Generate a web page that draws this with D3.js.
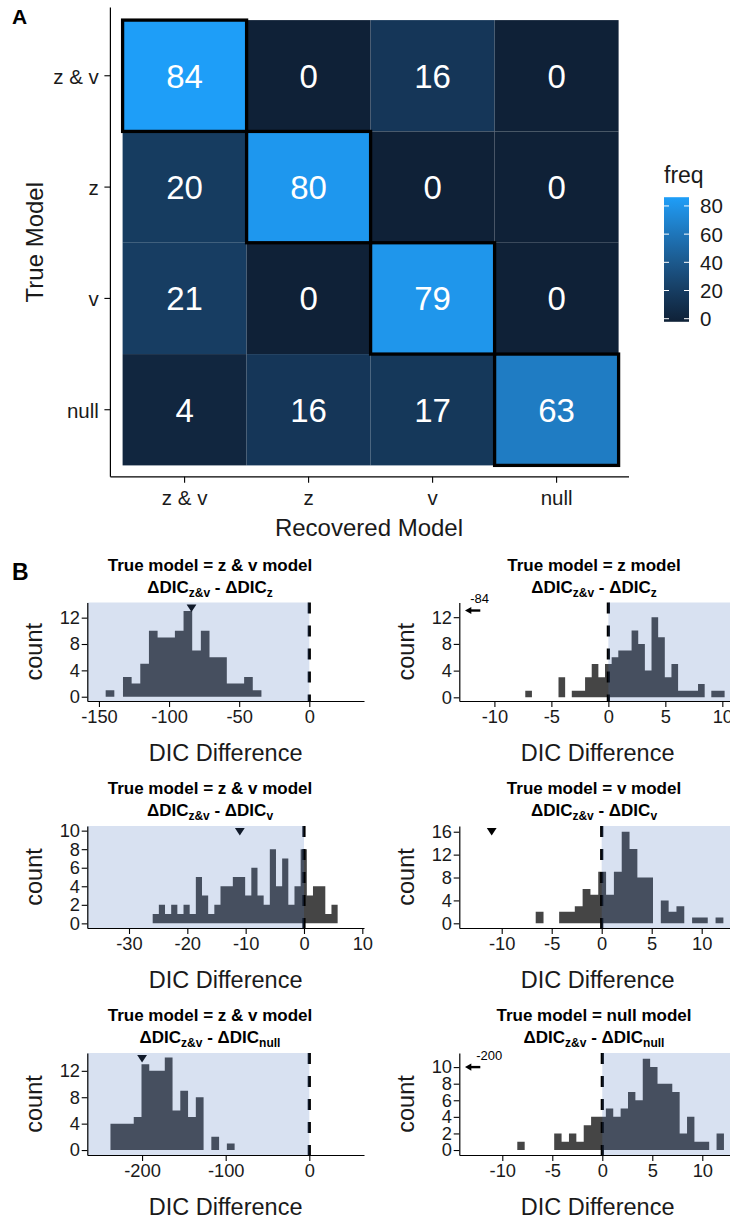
<!DOCTYPE html>
<html>
<head>
<meta charset="utf-8">
<script src="https://cdn.jsdelivr.net/npm/d3@7"></script>
<style>
body { margin: 0; background: #fff; }
text { font-family: "Liberation Sans", Arial, Helvetica, sans-serif; }
</style>
</head>
<body>
<script>
var width = 730, height = 1219;

// A: model recovery counts (rows = true model, cols = recovered model)
var recoveredModels = ["z & v", "z", "v", "null"];
var trueModels = ["z & v", "z", "v", "null"];
var freqZV = [84, 0, 16, 0];
var freqZ = [20, 80, 0, 0];
var freqV = [21, 0, 79, 0];
var freqNull = [4, 16, 17, 63];
var legendBreaks = [0, 20, 40, 60, 80];

// B: histograms of DIC differences, bin counts
var histTitles = ["True model = z & v model", "True model = z model",
                  "True model = z & v model", "True model = v model",
                  "True model = z & v model", "True model = null model"];
var histSubs = ["z", "z", "v", "v", "null", "null"];
var histCounts = [
  [1,0,3,2,5,10,9,9,10,13,7,10,6,6,2,2,3,1],
  [1,0,0,0,0,3,0,1,1,3,5,3,5,6,7,7,10,8,4,12,9,3,5,1,1,1,2,0,1,1],
  [1,2,1,2,1,2,1,5,3,1,2,4,4,5,5,3,6,3,2,8,4,7,2,4,8,3,4,4,1,2],
  [2,0,0,2,2,3,6,5,9,5,9,16,13,8,8,0,4,2,3,0,1,1,0,1],
  [4,4,4,5,13,12,12,14,6,9,5,8,0,2,0,1],
  [1,0,0,0,0,2,1,2,1,3,4,4,5,4,5,7,6,11,10,8,8,7,2,4,1,1,0,2]
];
var histBinStart = [-145.2, -7.29, -25.94, -6.6, -237.8, -8.5];
var histBinWidth = [6.17, 0.583, 1.057, 0.782, 9.28, 0.738];
var histMean = [-84, -84, -11, -11, -200, -200];
var histArrowY = [13, 13, 10, 10, 10, 10];
var histArrowLabelX = -11.3;
var histXDomain = [[-158.3, 39], [-13.08, 11.2], [-37.15, 10.29], [-14.24, 13.43], [-265.5, 65.4], [-14.3, 13.37]];
var histYDomain = [[-0.65, 14.3], [-0.55, 14.2], [-0.5, 10.5], [-0.82, 17], [-0.75, 14.7], [-0.6, 11.7]];
var histXTicks = [[-150,-100,-50,0], [-10,-5,0,5,10], [-30,-20,-10,0,10], [-10,-5,0,5,10], [-200,-100,0], [-10,-5,0,5,10]];
var histYTicks = [[0,4,8,12], [0,4,8,12], [0,2,4,6,8,10], [0,4,8,12,16], [0,4,8,12], [0,2,4,6,8,10]];

var ink = "#1a1a1a";
var svg = d3.select("body").append("svg").attr("width", width).attr("height", height);

// ---------- A ----------
var freq = [freqZV, freqZ, freqV, freqNull];
var maxFreq = d3.max(freq, function(r){ return d3.max(r); });
var xA = d3.scaleBand().domain(recoveredModels).range([122.6, 618.6]);
var yA = d3.scaleBand().domain(trueModels).range([20.1, 465.4]);
var fillA = d3.scaleLinear().domain([0, maxFreq]).range(["#0f2137", "#1e9ef8"]).interpolate(d3.interpolateLab);

var cells = [];
trueModels.forEach(function(t, i){
  recoveredModels.forEach(function(r, j){
    cells.push({truth: t, rec: r, n: freq[i][j], diag: i == j});
  });
});

var gA = svg.append("g");
gA.selectAll("rect.tile").data(cells).enter().append("rect")
  .attr("x", function(d){ return xA(d.rec); })
  .attr("y", function(d){ return yA(d.truth); })
  .attr("width", xA.bandwidth()).attr("height", yA.bandwidth())
  .attr("fill", function(d){ return fillA(d.n); });
gA.selectAll("text.cell").data(cells).enter().append("text")
  .attr("x", function(d){ return xA(d.rec) + xA.bandwidth() / 2; })
  .attr("y", function(d){ return yA(d.truth) + yA.bandwidth() / 2; })
  .attr("dy", "0.36em").attr("text-anchor", "middle")
  .attr("font-size", "33px").attr("fill", "#fff")
  .text(function(d){ return d.n; });
gA.selectAll("rect.diag").data(cells.filter(function(d){ return d.diag; })).enter().append("rect")
  .attr("x", function(d){ return xA(d.rec); })
  .attr("y", function(d){ return yA(d.truth); })
  .attr("width", xA.bandwidth()).attr("height", yA.bandwidth())
  .attr("fill", "none").attr("stroke", "#000").attr("stroke-width", 3.3);

// axes of A
var axA = gA.append("g").attr("transform", "translate(0,476.8)")
  .call(d3.axisBottom(xA).tickSize(6).tickPadding(7.6).tickSizeOuter(0));
var ayA = gA.append("g").attr("transform", "translate(110.4,0)")
  .call(d3.axisLeft(yA).tickSize(6).tickPadding(5.6).tickSizeOuter(0));
[axA, ayA].forEach(function(a){
  a.select(".domain").remove();
  a.selectAll("line").attr("stroke", "#000").attr("stroke-width", 1.1);
  a.selectAll("text").attr("font-size", "20.5px").attr("fill", ink).style("font-family", null);
});
ayA.selectAll("text").attr("dy", "0.38em");
gA.append("line").attr("x1", 110.4).attr("x2", 629).attr("y1", 476.8).attr("y2", 476.8).attr("stroke", "#000").attr("stroke-width", 1.2);
gA.append("line").attr("x1", 110.4).attr("x2", 110.4).attr("y1", 7.6).attr("y2", 476.8).attr("stroke", "#000").attr("stroke-width", 1.2);
gA.append("text").attr("x", 369).attr("y", 536.3).attr("text-anchor", "middle")
  .attr("font-size", "24px").attr("fill", ink).text("Recovered Model");
gA.append("text").attr("transform", "translate(42.9,242.2) rotate(-90)").attr("text-anchor", "middle")
  .attr("font-size", "24px").attr("fill", ink).text("True Model");
svg.append("text").attr("x", 12).attr("y", 23.5).attr("font-size", "21px").attr("font-weight", "bold").text("A");

// legend
var legY = d3.scaleLinear().domain([0, maxFreq]).range([318.7, 200.3]);
var grad = svg.append("defs").append("linearGradient").attr("id", "freqgrad")
  .attr("x1", 0).attr("y1", 1).attr("x2", 0).attr("y2", 0);
d3.range(0, 1.0001, 0.1).forEach(function(t){
  grad.append("stop").attr("offset", t).attr("stop-color", fillA(t * maxFreq));
});
var gL = svg.append("g");
gL.append("text").attr("x", 664).attr("y", 182.5).attr("font-size", "23px").attr("fill", ink).text("freq");
gL.append("rect").attr("x", 664).attr("y", 197.2).attr("width", 25).attr("height", 124.6).attr("fill", "url(#freqgrad)");
gL.selectAll("line.tl").data(legendBreaks).enter().append("line")
  .attr("x1", 664).attr("x2", 669).attr("y1", legY).attr("y2", legY).attr("stroke", "#fff").attr("stroke-width", 1);
gL.selectAll("line.tr").data(legendBreaks).enter().append("line")
  .attr("x1", 684).attr("x2", 689).attr("y1", legY).attr("y2", legY).attr("stroke", "#fff").attr("stroke-width", 1);
gL.selectAll("text.lab").data(legendBreaks).enter().append("text")
  .attr("x", 700).attr("y", legY).attr("dy", "0.36em")
  .attr("font-size", "20.5px").attr("fill", ink).text(function(d){ return d; });

// ---------- B ----------
svg.append("text").attr("x", 12).attr("y", 580).attr("font-size", "23px").attr("font-weight", "bold").text("B");

var colX = [[87.3, 736 - 372], [459.3, 736]];
var rowY = [[602.5, 701], [826, 928], [1053, 1155]];
var titleX = [210, 594];

histTitles.forEach(function(title, i){
  var c = i % 2, r = Math.floor(i / 2);
  var top = rowY[r][0], bottom = rowY[r][1];
  var x = d3.scaleLinear().domain(histXDomain[i]).range(colX[c]);
  var y = d3.scaleLinear().domain(histYDomain[i]).range([bottom, top]);
  var g = svg.append("g");

  // bins as one stepped area so neighbouring bars do not show seams
  var steps = histCounts[i].map(function(n, k){
    return {x: histBinStart[i] + k * histBinWidth[i], n: n};
  });
  steps.push({x: histBinStart[i] + histCounts[i].length * histBinWidth[i], n: 0});
  var area = d3.area().curve(d3.curveStepAfter)
    .x(function(d){ return x(d.x); }).y0(y(0)).y1(function(d){ return y(d.n); });
  g.append("path").datum(steps).attr("d", area).attr("fill", "#454545");

  // mean marker, or arrow when it falls off the left of the axis
  var m = histMean[i];
  if (m >= histXDomain[i][0]) {
    var mx = x(m);
    g.append("path").attr("d", "M" + (mx - 4.9) + "," + (top + 2) + "L" + (mx + 4.9) + "," + (top + 2) + "L" + mx + "," + (top + 9.5) + "Z")
      .attr("fill", "#000");
  }

  g.append("line").attr("x1", x(0)).attr("x2", x(0)).attr("y1", top).attr("y2", bottom)
    .attr("stroke", "#000").attr("stroke-width", 3.2).attr("stroke-dasharray", "11,12");

  // shaded side of zero that favours the true model
  var sx0 = c == 0 ? colX[c][0] : x(0);
  var sx1 = c == 0 ? x(0) : colX[c][1];
  g.append("rect").attr("x", sx0).attr("y", top).attr("width", sx1 - sx0).attr("height", bottom - top)
    .attr("fill", "rgb(78,119,191)").attr("fill-opacity", 0.22);

  if (m < histXDomain[i][0]) {
    var ay = y(histArrowY[i]), ax = colX[c][0];
    g.append("line").attr("x1", ax + 10).attr("x2", ax + 21).attr("y1", ay).attr("y2", ay)
      .attr("stroke", "#000").attr("stroke-width", 2.4);
    g.append("path").attr("d", "M" + (ax + 5.7) + "," + ay + "L" + (ax + 12) + "," + (ay - 3.6) + "L" + (ax + 12) + "," + (ay + 3.6) + "Z")
      .attr("fill", "#000");
    g.append("text").attr("x", x(histArrowLabelX)).attr("y", ay - 7.5).attr("text-anchor", "middle")
      .attr("font-size", "13px").attr("fill", "#000").text(m);
  }

  var ax1 = g.append("g").attr("transform", "translate(0," + bottom + ")")
    .call(d3.axisBottom(x).tickValues(histXTicks[i]).tickSize(6).tickPadding(3.3).tickSizeOuter(0));
  var ay1 = g.append("g").attr("transform", "translate(" + colX[c][0] + ",0)")
    .call(d3.axisLeft(y).tickValues(histYTicks[i]).tickSize(5.6).tickPadding(1.7).tickSizeOuter(0));
  [ax1, ay1].forEach(function(a){
    a.select(".domain").attr("stroke", "#000").attr("stroke-width", 1.2);
    a.selectAll("line").attr("stroke", "#000").attr("stroke-width", 1.1);
    a.selectAll("text").attr("font-size", "18.3px").attr("fill", ink).style("font-family", null)
      .text(function(d){ return d; });
  });

  g.append("text").attr("x", (colX[c][0] + colX[c][1]) / 2).attr("y", bottom + 60).attr("text-anchor", "middle")
    .attr("font-size", "23.5px").attr("fill", ink).text("DIC Difference");
  g.append("text").attr("transform", "translate(" + (colX[c][0] - 45.3) + "," + ((top + bottom) / 2) + ") rotate(-90)")
    .attr("text-anchor", "middle").attr("font-size", "23.5px").attr("fill", ink).text("count");

  g.append("text").attr("x", titleX[c]).attr("y", top - 32).attr("text-anchor", "middle")
    .attr("font-size", "17px").attr("font-weight", "bold").attr("fill", "#000").text(title);
  var t2 = g.append("text").attr("x", titleX[c]).attr("y", top - 10).attr("text-anchor", "middle")
    .attr("font-size", "17px").attr("font-weight", "bold").attr("fill", "#000");
  t2.append("tspan").text("\u0394DIC");
  t2.append("tspan").attr("font-size", "12px").attr("dy", 4).text("z&v");
  t2.append("tspan").attr("dy", -4).text(" - \u0394DIC");
  t2.append("tspan").attr("font-size", "12px").attr("dy", 4).text(histSubs[i]);
});
</script>
</body>
</html>
